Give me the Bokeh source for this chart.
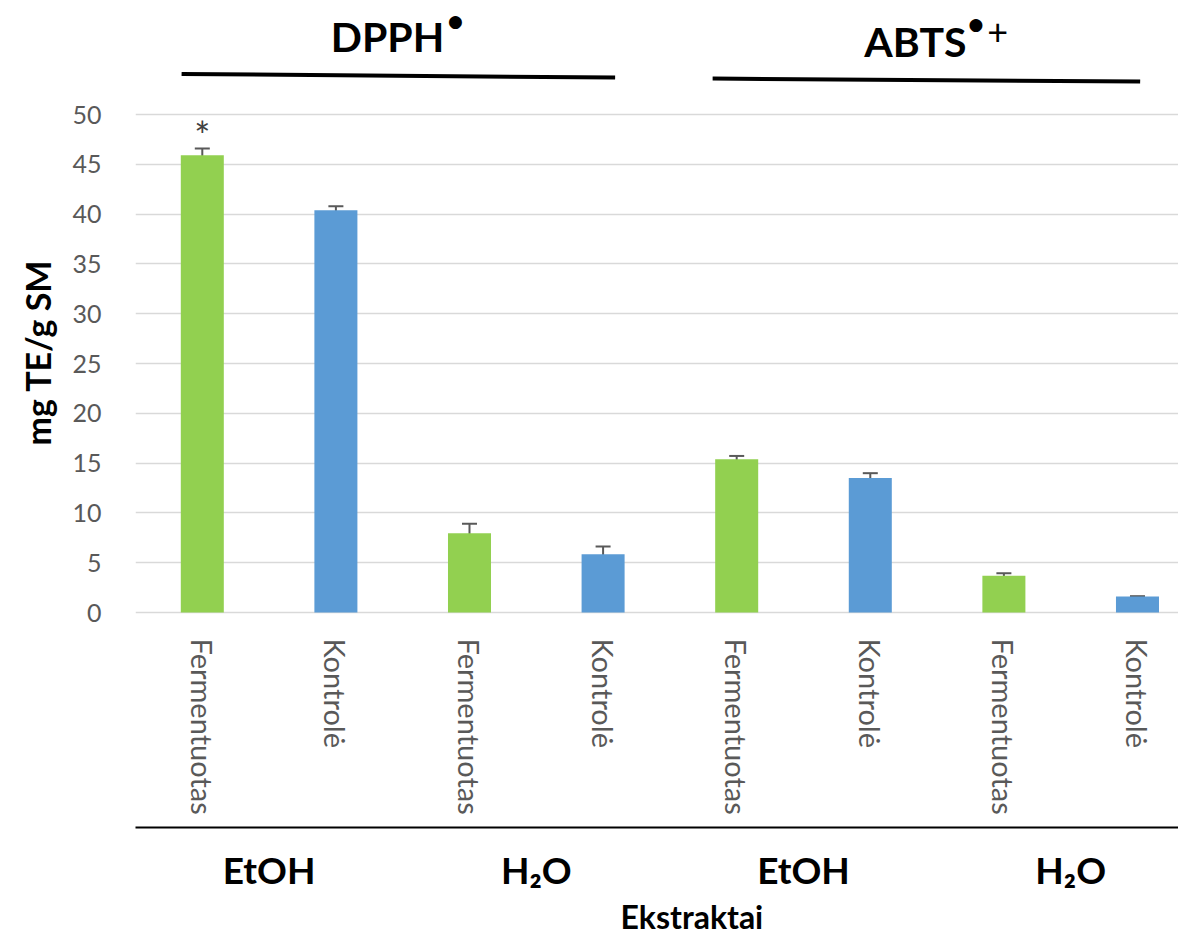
from bokeh.plotting import figure
from bokeh.models import (Range1d, FixedTicker, LinearAxis, Whisker, TeeHead,
                          ColumnDataSource, Title)
from bokeh.core.properties import value
from bokeh.embed import file_html
from bokeh.resources import INLINE

# ---------------- data ----------------
categories = ["Fermentuotas", "Kontrolė", "Fermentuotas", "Kontrolė",
              "Fermentuotas", "Kontrolė", "Fermentuotas", "Kontrolė"]
groups = ["EtOH", "H\u2082O", "EtOH", "H\u2082O"]
assays = ["DPPH", "ABTS"]
values = [45.9, 40.4, 7.95, 5.85, 15.4, 13.5, 3.7, 1.6]
errors = [0.7, 0.4, 0.97, 0.78, 0.32, 0.49, 0.24, 0.03]
y_ticks = [0, 5, 10, 15, 20, 25, 30, 35, 40, 45, 50]

# ---------------- styles ----------------
GREEN = "#92D050"
BLUE = "#5B9BD5"
GRAY_TXT = "#595959"
FONT = "Lato"

xs = [i + 0.5 for i in range(len(categories))]
colors = [GREEN if c == "Fermentuotas" else BLUE for c in categories]
src = ColumnDataSource(dict(
    x=xs, top=values,
    upper=[v + e for v, e in zip(values, errors)],
    lower=[v - e for v, e in zip(values, errors)],
    color=colors))

p = figure(width=1178, height=936, title=None,
           x_range=Range1d(0, 7.807), y_range=Range1d(-0.2, 61.45),
           output_backend="svg", toolbar_location=None,
           min_border_left=135, min_border_right=0, min_border_top=0,
           min_border_bottom=322)
p.outline_line_color = None
p.background_fill_color = "white"

# grid
p.xgrid.visible = False
p.ygrid.ticker = FixedTicker(ticks=y_ticks)
p.ygrid.grid_line_color = "#D9D9D9"
p.ygrid.grid_line_width = 1.5

# y axis
p.yaxis.ticker = FixedTicker(ticks=y_ticks)
p.yaxis.axis_line_color = None
p.yaxis.major_tick_line_color = None
p.yaxis.minor_tick_line_color = None
p.yaxis.major_label_text_font = FONT
p.yaxis.major_label_text_font_size = "25px"
p.yaxis.major_label_text_color = GRAY_TXT
p.yaxis.major_label_standoff = 28

ytitle = Title(text="mg TE/g SM", align="left", offset=169, standoff=24,
               text_font=FONT, text_font_style="bold", text_font_size="34px",
               text_color="black")
p.add_layout(ytitle, "left")

# x axis (categories)
p.xaxis.ticker = FixedTicker(ticks=xs)
p.xaxis.major_label_overrides = {x: c for x, c in zip(xs, categories)}
p.xaxis.major_label_orientation = "vertical"
p.xaxis.axis_line_color = None
p.xaxis.major_tick_line_color = None
p.xaxis.minor_tick_line_color = None
p.xaxis.major_label_text_font = FONT
p.xaxis.major_label_text_font_size = "29px"
p.xaxis.major_label_text_color = GRAY_TXT
p.xaxis.major_label_standoff = 18
p.xaxis.axis_label = " "
p.xaxis.axis_label_standoff = 0
p.xaxis.axis_label_text_font_size = "7px"

# second x axis (extract groups)
gx = [2 * i + 1 for i in range(len(groups))]
gaxis = LinearAxis(ticker=FixedTicker(ticks=gx),
                   major_label_overrides={g: t for g, t in zip(gx, groups)})
gaxis.axis_line_color = "black"
gaxis.axis_line_width = 2
gaxis.major_tick_line_color = None
gaxis.minor_tick_line_color = None
gaxis.major_label_text_font = FONT
gaxis.major_label_text_font_style = "bold"
gaxis.major_label_text_font_size = "37px"
gaxis.major_label_text_color = "black"
gaxis.major_label_standoff = 13
p.add_layout(gaxis, "below")

xtitle = Title(text="Ekstraktai", align="left", offset=485, standoff=0,
               text_font=FONT, text_font_style="bold", text_font_size="32px",
               text_color="black")
p.add_layout(xtitle, "below")

# bars
BAR_W = 0.322
p.vbar(x="x", top="top", bottom=0, width=BAR_W, fill_color="color",
       line_color=None, source=src)

# error bars
p.add_layout(Whisker(base="x", upper="upper", lower="lower", source=src,
                     line_color=GRAY_TXT, line_width=2,
                     upper_head=TeeHead(size=15, line_color=GRAY_TXT, line_width=2),
                     lower_head=TeeHead(size=15, line_color=GRAY_TXT, line_width=2)))

# significance mark
p.text(x=[xs[0]], y=[values[0] + errors[0] + 1.3], text=["*"],
       text_font=value(FONT), text_font_size="38px", text_color="#404040",
       text_align="center", text_baseline="alphabetic")

# assay headers (radical superscripts drawn separately)
title_x = [1.886, 5.838]
title_y = [57.8, 57.3]
p.text(x=title_x, y=title_y, text=assays, text_font=value(FONT),
       text_font_style="bold", text_font_size="41px", text_color="black",
       text_align="center", text_baseline="alphabetic")
p.text(x=[2.395, 6.29], y=[59.4, 59.1], text=["\u25CF", "\u25CF"],
       text_font=value("DejaVu Sans"), text_font_size="17px", text_color="black",
       text_align="center", text_baseline="middle")
p.text(x=[6.454], y=[58.3], text=["+"], text_font=value(FONT),
       text_font_size="36px", text_color="black",
       text_align="center", text_baseline="middle")
p.segment(x0=[0.345, 4.32], y0=[54.07, 53.61], x1=[3.59, 7.52], y1=[53.71, 53.31],
          line_color="black", line_width=4)

open("out.html", "w").write(file_html(p, INLINE))
